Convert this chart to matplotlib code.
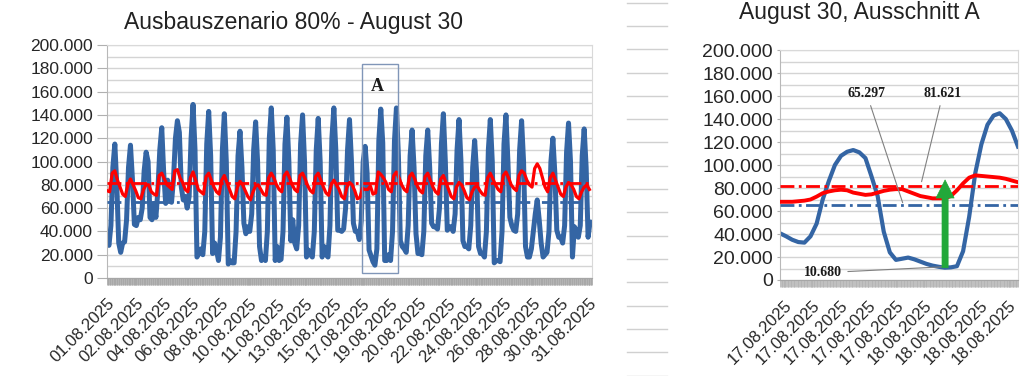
import numpy as np
import matplotlib
matplotlib.use("Agg")
import matplotlib.pyplot as plt
from matplotlib.ticker import FuncFormatter, MultipleLocator, FixedLocator
from matplotlib.lines import Line2D
from matplotlib.patches import Rectangle

plt.rcParams['font.family'] = ['Liberation Sans', 'DejaVu Sans']

# ---------------- data ----------------
MONTH_TITLE = "Ausbauszenario 80% - August 30"
ZOOM_TITLE = "August 30, Ausschnitt A"

MONTH_LABELS = ["01.08.2025", "02.08.2025", "04.08.2025", "06.08.2025", "08.08.2025",
                "10.08.2025", "11.08.2025", "13.08.2025", "15.08.2025", "17.08.2025",
                "19.08.2025", "20.08.2025", "22.08.2025", "24.08.2025", "26.08.2025",
                "28.08.2025", "30.08.2025", "31.08.2025"]

# blue series (thousands), per day at hours 0,3,6,9,12,15,18,21
BLUE_HOURS = [0, 3, 6, 9, 12, 15, 18, 21]
BLUE_MONTH = [
    [33, 28, 45, 95, 115, 80, 30, 22],
    [30, 31, 50, 95, 114, 85, 46, 45],
    [52, 50, 60, 92, 108, 100, 52, 50],
    [64, 52, 75, 110, 129, 90, 64, 84],
    [70, 65, 85, 120, 135, 125, 78, 67],
    [70, 60, 70, 120, 149, 110, 18, 21],
    [25, 20, 40, 115, 143, 105, 21, 30],
    [24, 15, 35, 110, 141, 100, 12, 15],
    [13, 13, 40, 105, 126, 95, 47, 38],
    [44, 40, 55, 110, 134, 100, 27, 15],
    [18, 15, 40, 120, 146, 110, 15, 27],
    [15, 16, 40, 115, 138, 100, 32, 50],
    [30, 25, 45, 115, 140, 100, 18, 24],
    [20, 18, 40, 110, 137, 100, 18, 27],
    [20, 18, 45, 120, 146, 110, 41, 41],
    [40, 42, 60, 110, 136, 100, 47, 40],
    [40, 33, 49, 100, 113, 90, 24, 19],
    [14, 11, 25, 118, 145, 116, 15, 15],
    [20, 15, 40, 118, 146, 105, 32, 27],
    [25, 22, 45, 105, 127, 95, 38, 21],
    [21, 20, 40, 105, 127, 95, 47, 44],
    [44, 42, 60, 115, 141, 100, 41, 44],
    [44, 40, 55, 110, 136, 100, 32, 27],
    [27, 25, 45, 95, 118, 90, 27, 21],
    [21, 18, 40, 110, 136, 100, 13, 15],
    [15, 14, 40, 115, 140, 100, 52, 45],
    [41, 40, 55, 110, 135, 100, 27, 18],
    [18, 25, 40, 55, 67, 50, 30, 18],
    [20, 22, 40, 100, 120, 90, 41, 35],
    [35, 30, 45, 108, 133, 100, 18, 44],
    [40, 35, 45, 105, 128, 95, 35, 48],
]

# red series (thousands), per day at hours 0,4,8,12,16,20
RED_HOURS = [0, 4, 8, 12, 16, 20]
RED_MONTH = [
    [75, 74, 90, 92, 84, 78],
    [72, 70, 80, 85, 80, 75],
    [69, 68, 76, 80, 80, 74],
    [72, 71, 88, 90, 85, 80],
    [78, 76, 92, 93, 86, 82],
    [76, 74, 86, 91, 84, 76],
    [74, 72, 87, 90, 84, 78],
    [74, 72, 84, 88, 82, 76],
    [70, 68, 78, 83, 80, 75],
    [70, 67, 74, 79, 80, 76],
    [72, 71, 86, 90, 86, 80],
    [76, 74, 88, 91, 86, 80],
    [76, 74, 88, 90, 85, 79],
    [75, 73, 87, 90, 84, 78],
    [73, 71, 80, 84, 80, 76],
    [70, 68, 78, 82, 80, 75],
    [68, 69, 77, 76, 76, 79],
    [72, 73, 91, 89, 86, 82],
    [76, 74, 88, 91, 86, 80],
    [76, 74, 87, 90, 85, 79],
    [75, 73, 87, 90, 84, 78],
    [74, 72, 85, 88, 82, 76],
    [70, 68, 78, 82, 80, 75],
    [69, 67, 74, 78, 79, 75],
    [72, 71, 86, 90, 85, 80],
    [76, 74, 88, 91, 86, 80],
    [77, 75, 88, 92, 90, 84],
    [80, 78, 94, 98, 94, 86],
    [78, 74, 86, 90, 84, 78],
    [72, 70, 78, 82, 80, 76],
    [70, 68, 74, 78, 80, 76],
]

MEAN_BLUE = 65297
MEAN_RED = 81621
MIN_BLUE = 10680

ZOOM_LABELS = ["17.08.2025"] * 5 + ["18.08.2025"] * 4
# hourly values (thousands) from 17.08. 00:00 to 18.08. 15:00
ZOOM_BLUE = [40.6, 38, 35, 33, 32.5, 38, 49, 70, 86, 100, 108, 111.5, 113, 111, 106,
             90, 73, 42, 24, 17.5, 18.5, 19.5, 18, 16, 14, 12.5, 11.5, 10.7, 11, 12,
             25, 55, 93, 118, 135, 143, 145, 140, 130, 116]
ZOOM_RED = [68, 68, 68, 68.5, 69, 70, 72.5, 75.5, 77, 78, 78.5, 78, 76, 75, 74,
            74.5, 76, 77.5, 78.5, 79, 79, 77, 75, 73, 72, 71, 71, 71, 73, 78,
            84, 89, 91, 90.5, 90, 89.5, 89, 88, 86.5, 85]

# ---------------- style / layout ----------------
BLUE = '#3465a4'
RED = '#ff0000'
GREEN = '#22a83a'
GRID = '#d4d4d4'
TXT = '#262626'
DASHDOT = (0, (5, 1.6, 1, 1.6))
MONTH_TICK_STEP = 43.5      # hours between month-axis labels
ZOOM_TICK_START = 0.66      # hours
ZOOM_TICK_STEP = 4.6        # hours


def de_fmt(v, pos):
    return f"{int(round(v)):,}".replace(",", ".")


fig = plt.figure(figsize=(10.24, 3.76), dpi=100)
W, H = 1024, 376

# decorative spreadsheet grid fragments in the gap
for k in range(17):
    yy = 2.7 + 23.3 * k
    fig.add_artist(Line2D([627 / W, 667 / W], [1 - yy / H, 1 - yy / H],
                          color='#d0d0d0', lw=1))


def style_axes(ax, ysize, ytick_len):
    ax.set_ylim(0, 200000)
    ax.yaxis.set_major_locator(MultipleLocator(20000))
    ax.yaxis.set_minor_locator(MultipleLocator(10000))
    ax.yaxis.set_major_formatter(FuncFormatter(de_fmt))
    ax.grid(True, which='both', axis='y', color=GRID, lw=1)
    ax.set_axisbelow(True)
    ax.tick_params(axis='y', which='major', labelsize=ysize, labelcolor=TXT,
                   length=ytick_len, color='#b0b0b0', pad=3)
    ax.tick_params(axis='y', which='minor', length=0)
    ax.tick_params(axis='x', which='both', direction='out', length=5,
                   width=0.6, color='#a6a6a6')
    ax.tick_params(axis='x', which='major', labelsize=12, labelcolor=TXT, pad=8)
    for s in ['top', 'right']:
        ax.spines[s].set_color('#d9d9d9')
    ax.spines['left'].set_color('#b8b8b8')
    ax.spines['bottom'].set_color('#a6a6a6')


# ---------------- left chart ----------------
ax1 = fig.add_axes([107 / W, (H - 278) / H, 485 / W, 233 / H])
bx = [24 * d + h for d in range(len(BLUE_MONTH)) for h in BLUE_HOURS]
by = [v * 1000 for day in BLUE_MONTH for v in day]
rx = [24 * d + h for d in range(len(RED_MONTH)) for h in RED_HOURS]
ry = [v * 1000 for day in RED_MONTH for v in day]
ax1.plot(bx, by, color=BLUE, lw=3.6, solid_joinstyle='round', zorder=2)
ax1.plot(rx, ry, color=RED, lw=2.3, zorder=4)
ax1.axhline(MEAN_BLUE, color=BLUE, lw=2, ls=DASHDOT, zorder=3)
ax1.axhline(MEAN_RED, color=RED, lw=2, ls=DASHDOT, zorder=5)
n_hours = 24 * len(BLUE_MONTH)
ax1.set_xlim(0, n_hours)
style_axes(ax1, 12.5, 7)
ax1.xaxis.set_major_locator(FixedLocator([i * MONTH_TICK_STEP
                                          for i in range(len(MONTH_LABELS))]))
ax1.xaxis.set_minor_locator(MultipleLocator(1))
ax1.set_xticklabels(MONTH_LABELS, rotation=45, ha='right', rotation_mode='anchor')

# box "A"
ax1.add_patch(Rectangle((391, 4300), 55, 179400, fill=False, edgecolor='#8096b8',
                        lw=1, zorder=6))
ax1.text(414, 164000, "A", family=['Liberation Serif'], weight='bold', size=13,
         ha='center', va='center', color='#1a1a1a', zorder=7)

fig.text(294 / W, 1 - 22 / H, MONTH_TITLE, ha='center', va='center', size=16.5,
         color='#222222')

# ---------------- right chart ----------------
ax2 = fig.add_axes([780 / W, (H - 280) / H, 238 / W, 230 / H])
zx = np.arange(len(ZOOM_BLUE))
ax2.plot(zx, [v * 1000 for v in ZOOM_BLUE], color=BLUE, lw=3, zorder=2)
ax2.axhline(MEAN_BLUE, color=BLUE, lw=2, ls=DASHDOT, zorder=3)
ax2.plot(zx, [v * 1000 for v in ZOOM_RED], color=RED, lw=2.8, zorder=4)
ax2.axhline(MEAN_RED, color=RED, lw=2, ls=DASHDOT, zorder=5)
ax2.set_xlim(0, len(ZOOM_BLUE) - 1)
style_axes(ax2, 14, 2)
ax2.xaxis.set_major_locator(FixedLocator([ZOOM_TICK_START + i * ZOOM_TICK_STEP
                                          for i in range(len(ZOOM_LABELS))]))
ax2.xaxis.set_minor_locator(MultipleLocator(0.125))
ax2.tick_params(axis='x', which='minor', color='#b4b4b4')
ax2.set_xticklabels(ZOOM_LABELS, rotation=45, ha='right', rotation_mode='anchor')

lead = dict(arrowstyle='-', color='#808080', lw=0.8, shrinkA=2, shrinkB=0)
serif = ['Liberation Serif']
ax2.annotate(de_fmt(MEAN_BLUE, None), xy=(20.1, 67200), xytext=(14.2, 162000),
             family=serif, weight='bold', size=10, ha='center', va='center',
             color='#1a1a1a', arrowprops=lead, zorder=8)
ax2.annotate(de_fmt(MEAN_RED, None), xy=(23.2, 85500), xytext=(26.7, 162000),
             family=serif, weight='bold', size=10, ha='center', va='center',
             color='#1a1a1a', arrowprops=lead, zorder=8)
ax2.annotate(de_fmt(MIN_BLUE, None), xy=(27.3, 11600), xytext=(7.1, 6300),
             family=serif, weight='bold', size=10, ha='center', va='center',
             color='#1a1a1a', arrowprops=lead, zorder=8)
ax2.annotate('', xy=(27.05, 87000), xytext=(27.05, MIN_BLUE),
             arrowprops=dict(arrowstyle='simple,head_length=0.65,head_width=0.65,tail_width=0.22',
                             mutation_scale=20, lw=0.5, fc=GREEN, ec=GREEN,
                             shrinkA=0, shrinkB=0), zorder=9)

fig.text(859 / W, 1 - 13 / H, ZOOM_TITLE, ha='center', va='center', size=16.5,
         color='#222222')

fig.savefig('out.png', dpi=100)
